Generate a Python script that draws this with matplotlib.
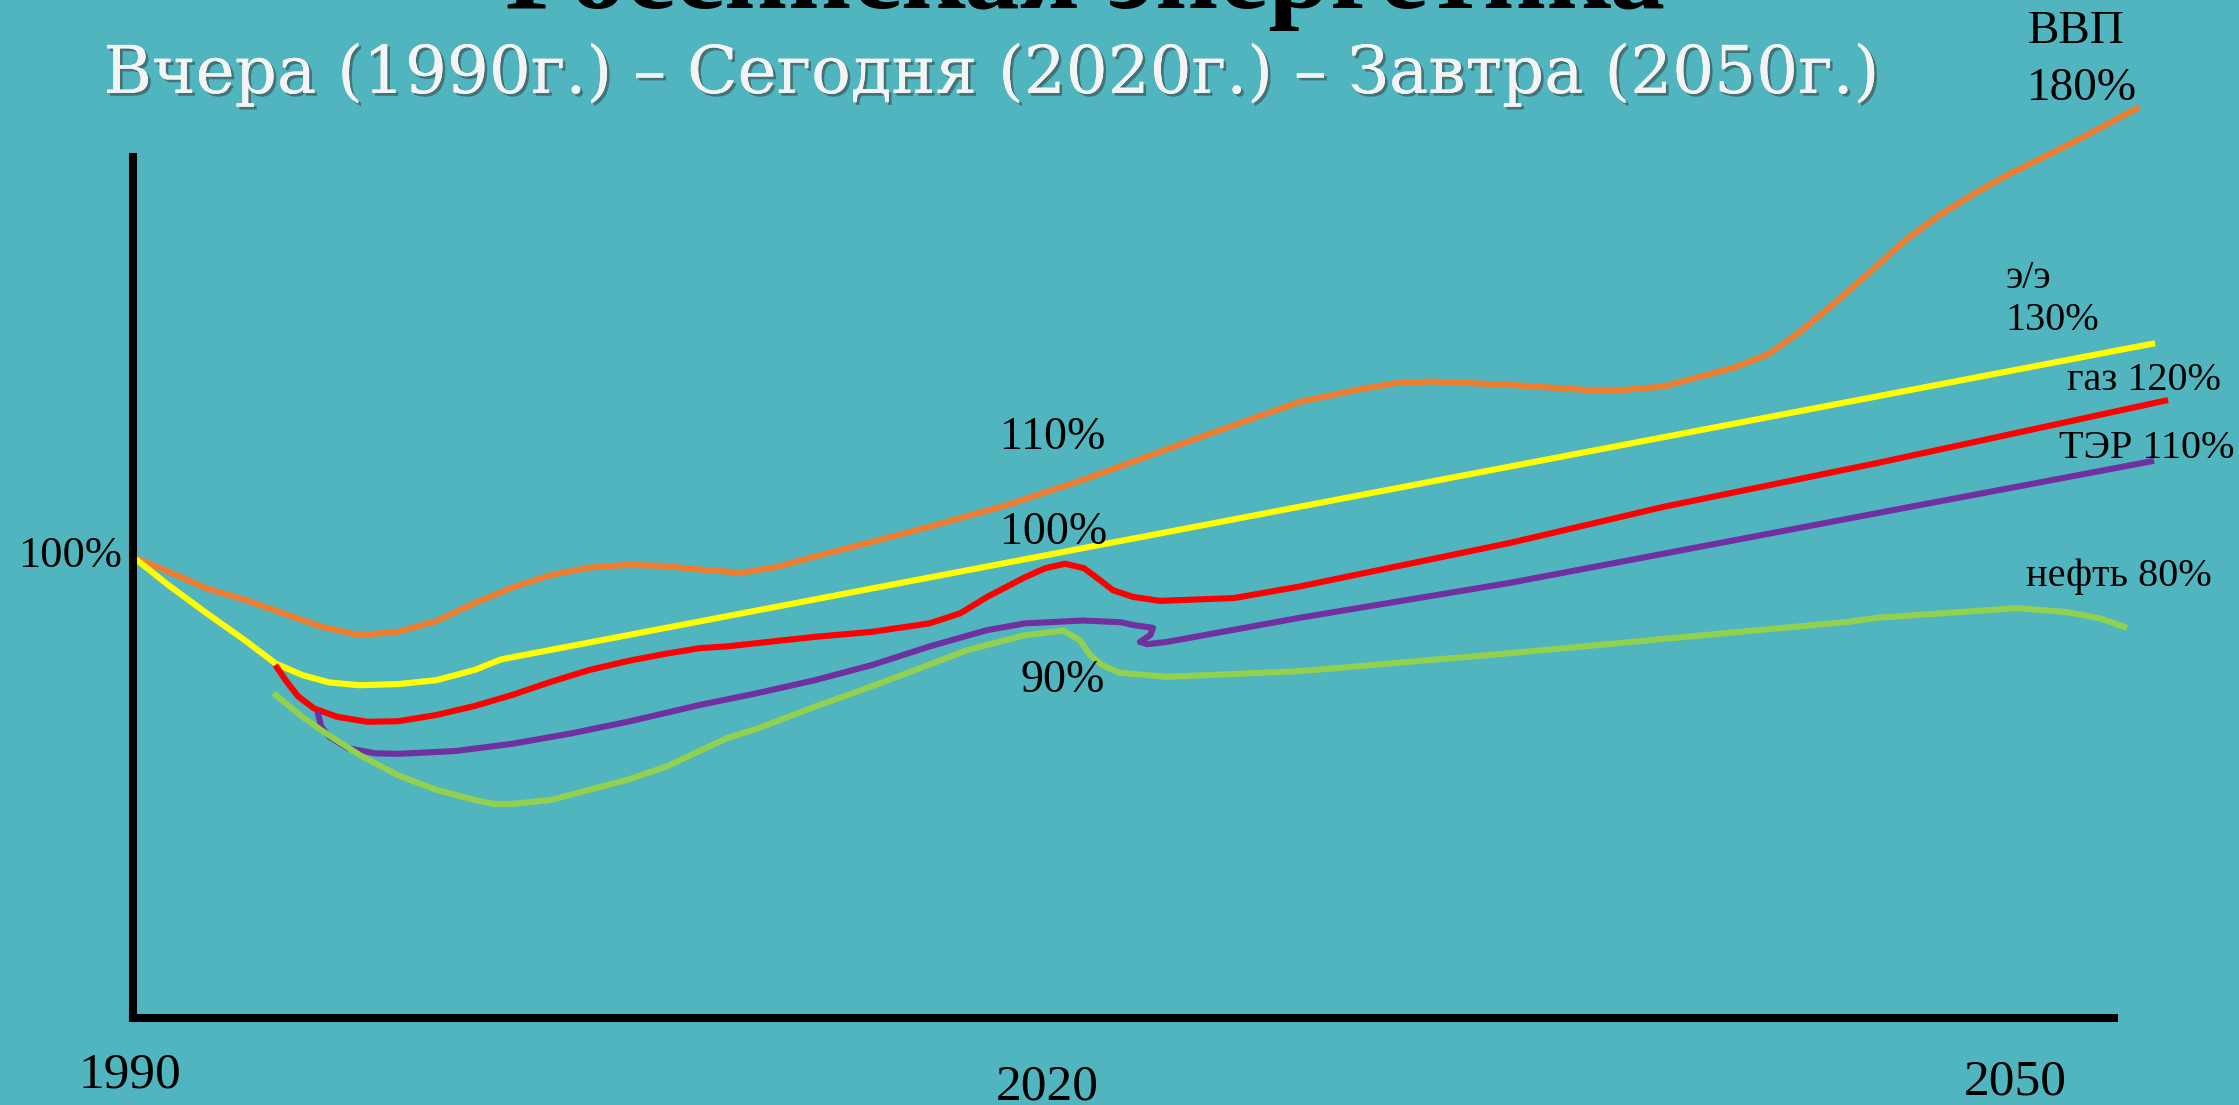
import matplotlib
matplotlib.use("Agg")
import matplotlib.pyplot as plt
import matplotlib.patheffects as pe

# Schematic index chart: x in years, y in % of the 1990 level (as drawn)
GDP_YEARS = [1990.00, 1991.14, 1992.37, 1993.60, 1994.83, 1996.06, 1997.29, 1998.53,
             1999.76, 2000.99, 2002.22, 2003.45, 2004.68, 2005.92, 2007.15, 2008.38,
             2009.12, 2009.48, 2010.71, 2011.95, 2013.79, 2015.64, 2018.11, 2020.57,
             2024.35, 2027.56, 2029.38, 2030.62, 2031.85, 2034.32, 2036.77, 2038.00,
             2039.24, 2040.47, 2041.55, 2042.65, 2043.76, 2044.87, 2045.97, 2047.08,
             2048.18, 2049.29, 2050.40, 2051.50, 2052.61, 2054.58]
GDP_VALUES = [100.0, 97.4, 94.4, 92.4, 90.0, 87.6, 86.1, 86.7,
              88.6, 91.8, 94.6, 96.8, 98.1, 98.6, 98.4, 97.7,
              97.4, 97.1, 98.2, 100.1, 102.7, 105.4, 109.2, 113.7,
              121.3, 127.6, 129.7, 130.9, 131.2, 130.6, 129.7, 129.7,
              130.3, 132.1, 133.7, 136.1, 140.5, 145.6, 151.0, 156.5,
              160.9, 164.7, 168.1, 171.1, 174.2, 180.0]

ELEC_YEARS = [1990.00, 1991.14, 1992.37, 1993.60, 1994.58, 1995.45, 1996.31, 1997.29,
              1998.53, 1999.76, 2000.99, 2001.85, 2055.08]
ELEC_VALUES = [100.0, 95.0, 90.0, 85.2, 81.1, 79.0, 77.7, 77.2,
               77.4, 78.1, 79.9, 81.8, 138.0]

GAS_YEARS = [1994.58, 1994.95, 1995.32, 1995.82, 1996.56, 1997.54, 1998.53, 1999.76,
             2000.99, 2002.22, 2003.45, 2004.68, 2005.92, 2007.15, 2008.25, 2009.12,
             2010.10, 2011.95, 2013.79, 2015.64, 2016.63, 2017.49, 2018.71, 2019.36,
             2020.00, 2020.61, 2021.00, 2021.54, 2022.19, 2023.06, 2025.44, 2027.50,
             2034.32, 2039.25, 2046.14, 2055.50]
GAS_VALUES = [80.8, 77.8, 75.2, 73.1, 71.6, 70.7, 70.8, 71.9,
              73.5, 75.5, 77.8, 79.9, 81.5, 82.8, 83.8, 84.1,
              84.7, 85.8, 86.7, 88.2, 90.0, 92.9, 96.4, 98.0,
              98.8, 98.0, 96.4, 94.1, 92.9, 92.2, 92.7, 94.7,
              102.5, 108.9, 116.7, 127.9]

TER_YEARS = [1995.94, 1996.06, 1996.31, 1996.92, 1997.79, 1998.53, 2000.37, 2002.22,
             2004.07, 2005.92, 2008.25, 2010.10, 2011.95, 2013.79,
             2015.64, 2017.49, 2018.72, 2020.57, 2021.80, 2022.19, 2022.83, 2022.74,
             2022.41, 2022.64, 2023.28, 2027.56, 2034.32, 2046.14, 2055.05]
TER_VALUES = [72.5, 69.8, 68.1, 66.0, 65.1, 65.0, 65.5, 66.8,
              68.6, 70.7, 73.7, 75.8, 78.1, 80.8,
              84.1, 87.0, 88.2, 88.7, 88.4, 87.9, 87.4, 86.1,
              84.9, 84.5, 84.9, 89.2, 95.4, 107.8, 117.1]

OIL_YEARS = [1994.52, 1995.45, 1996.06, 1997.29, 1998.53, 1999.76, 2000.99, 2001.61,
             2002.22, 2003.45, 2004.68, 2005.92, 2007.15, 2009.12, 2010.10, 2011.95,
             2013.18, 2015.03, 2016.88, 2018.72, 2019.95, 2020.48, 2020.80, 2021.19,
             2021.77, 2023.28, 2027.56, 2034.32, 2045.27, 2046.14, 2050.64, 2052.25,
             2053.31, 2054.18]
OIL_VALUES = [75.8, 71.6, 69.2, 64.8, 61.2, 58.6, 56.8, 56.1,
              56.1, 56.8, 58.6, 60.4, 62.7, 67.8, 69.5, 73.4,
              75.8, 79.6, 83.5, 86.1, 86.9, 85.2, 82.6, 80.8,
              79.4, 78.7, 79.7, 82.9, 88.5, 89.2, 90.9, 90.2,
              89.1, 87.4]

BG = "#50B5BE"
SERIES = [
    (GDP_YEARS, GDP_VALUES, "#ED7D31"),
    (ELEC_YEARS, ELEC_VALUES, "#FFFF00"),
    (GAS_YEARS, GAS_VALUES, "#FF0000"),
    (TER_YEARS, TER_VALUES, "#7030A0"),
    (OIL_YEARS, OIL_VALUES, "#92D050"),
]

W, H = 2239, 1105
fig = plt.figure(figsize=(W / 100, H / 100), dpi=100, facecolor=BG)
ax = fig.add_axes([133 / W, (H - 1018) / H, (2114 - 133) / W, (1018 - 157) / H])
ax.set_facecolor("none")
ax.set_xlim(1990, 2053.76)
ax.set_ylim(18.04, 171.11)
ax.set_xticks([])
ax.set_yticks([])
for side in ("top", "right"):
    ax.spines[side].set_visible(False)
for side in ("left", "bottom"):
    ax.spines[side].set_linewidth(5.8)
    ax.spines[side].set_color("black")
    ax.spines[side].set_capstyle("projecting")

for xs, ys, col in SERIES:
    ax.plot(xs, ys, color=col, lw=4.4, clip_on=False,
            solid_capstyle="butt", solid_joinstyle="round")

serif = "Liberation Serif"
lab = dict(family=serif, color="black", va="baseline")
ax.text(1989.65, 98.2, "100%", ha="right", fontsize=32, **lab)
ax.text(2017.91, 119.2, "110%", ha="left", fontsize=33, **lab)
ax.text(2017.91, 102.3, "100%", ha="left", fontsize=33, **lab)
ax.text(2018.55, 76.0, "90%", ha="left", fontsize=33, **lab)
ax.text(2050.97, 191.4, "ВВП", ha="left", fontsize=34, **lab)
ax.text(2050.97, 181.3, "180%", ha="left", fontsize=34, **lab)
ax.text(2050.26, 147.8, "э/э", ha="left", fontsize=29, **lab)
ax.text(2050.26, 140.4, "130%", ha="left", fontsize=29, **lab)
ax.text(2052.25, 129.7, "газ 120%", ha="left", fontsize=29, **lab)
ax.text(2052.00, 117.6, "ТЭР 110%", ha="left", fontsize=29, **lab)
ax.text(2050.93, 94.8, "нефть 80%", ha="left", fontsize=29, **lab)
ax.text(1988.26, 5.6, "1990", ha="left", fontsize=37, **lab)
ax.text(2017.78, 3.6, "2020", ha="left", fontsize=37, **lab)
ax.text(2048.94, 4.5, "2050", ha="left", fontsize=37, **lab)

fig.text(1085 / W, 1 - 8 / H, "Российская энергетика", family=serif,
         fontweight="bold", fontsize=80, color="black", ha="center", va="baseline")
fig.text(992 / W, 1 - 93 / H, "Вчера (1990г.) – Сегодня (2020г.) – Завтра (2050г.)",
         family="DejaVu Serif", fontsize=47.5, color="#F4F4F4", ha="center", va="baseline",
         path_effects=[pe.withSimplePatchShadow(offset=(2, -2), shadow_rgbFace="#333333",
                                                alpha=0.5),
                       pe.Normal()])

fig.savefig("out.png", dpi=100, facecolor=BG)
